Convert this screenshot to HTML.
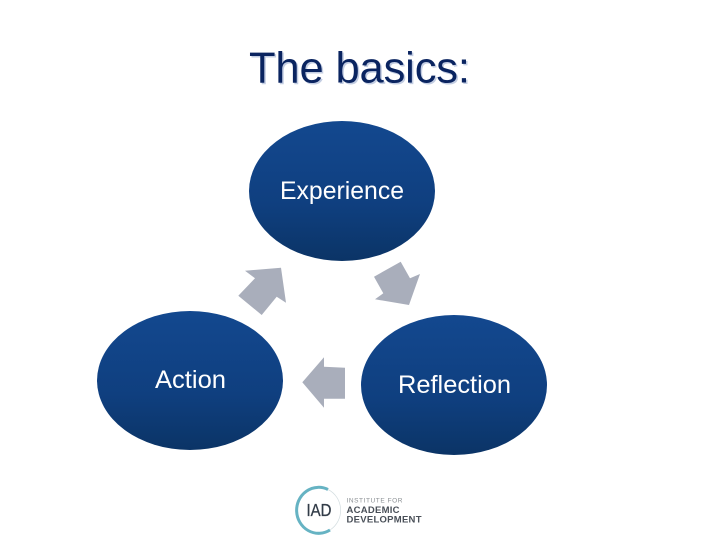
<!DOCTYPE html>
<html>
<head>
<meta charset="utf-8">
<style>
html,body{margin:0;padding:0;background:#fff;width:720px;height:540px;overflow:hidden}
svg{display:block}
text{font-family:"Liberation Sans",sans-serif}
</style>
</head>
<body>
<svg width="720" height="540" viewBox="0 0 720 540" xmlns="http://www.w3.org/2000/svg">
<defs>
<linearGradient id="g" x1="0" y1="0" x2="0" y2="1">
<stop offset="0" stop-color="#13488f"/>
<stop offset="0.6" stop-color="#0f3f7f"/>
<stop offset="1" stop-color="#0b3466"/>
</linearGradient>
<filter id="soft" x="-5%" y="-5%" width="110%" height="110%"><feGaussianBlur stdDeviation="0.35"/></filter>
</defs>
<rect width="720" height="540" fill="#fff"/>

<text x="250.5" y="84" font-size="43.5" fill="#c3cde2" textLength="221" lengthAdjust="spacing">The basics:</text>
<text x="249" y="82.5" font-size="43.5" fill="#0a2460" textLength="221" lengthAdjust="spacing">The basics:</text>

<ellipse cx="342" cy="191" rx="93" ry="70" fill="url(#g)"/>
<ellipse cx="190" cy="380.5" rx="93" ry="69.5" fill="url(#g)"/>
<ellipse cx="454" cy="385" rx="93" ry="70" fill="url(#g)"/>

<text x="280" y="199" font-size="25" fill="#fff" textLength="124" lengthAdjust="spacingAndGlyphs">Experience</text>
<text x="155" y="388" font-size="25" fill="#fff" textLength="71" lengthAdjust="spacingAndGlyphs">Action</text>
<text x="398" y="393" font-size="25" fill="#fff" textLength="113" lengthAdjust="spacingAndGlyphs">Reflection</text>

<polygon points="245,270.7 281,267.7 286,302.7 276.7,296.7 261.7,315 238.3,295.7 255,278.3" fill="#a9aebb"/>
<polygon points="400.7,261.7 410,278.3 420,274 409,305 375,299.3 383.3,293.3 374,276.7" fill="#a9aebb"/>
<polygon points="302.3,382.3 324,357.3 324,366.7 345,367.7 345,398.7 324,398.7 324,407.7" fill="#a9aebb"/>

<g filter="url(#soft)">
<path d="M328 489.5 A22 23 0 1 0 330 530" fill="none" stroke="#66b3c3" stroke-width="3"/>
<path d="M330 530 A22 23 0 0 0 328 489.5" fill="none" stroke="#d3dde0" stroke-width="0.7"/>
<text x="306.5" y="516" font-size="17.5" fill="#333c48" stroke="#333c48" stroke-width="0.3" textLength="25" lengthAdjust="spacingAndGlyphs">IAD</text>
<text x="346.5" y="502.5" font-size="6.5" fill="#8a8f93" textLength="56" lengthAdjust="spacing">INSTITUTE FOR</text>
<text x="346.5" y="513" font-size="9.5" font-weight="bold" fill="#4a5058" textLength="53" lengthAdjust="spacing">ACADEMIC</text>
<text x="346.5" y="522.5" font-size="9.5" font-weight="bold" fill="#4a5058" textLength="75" lengthAdjust="spacing">DEVELOPMENT</text>
</g>
</svg>
</body>
</html>
